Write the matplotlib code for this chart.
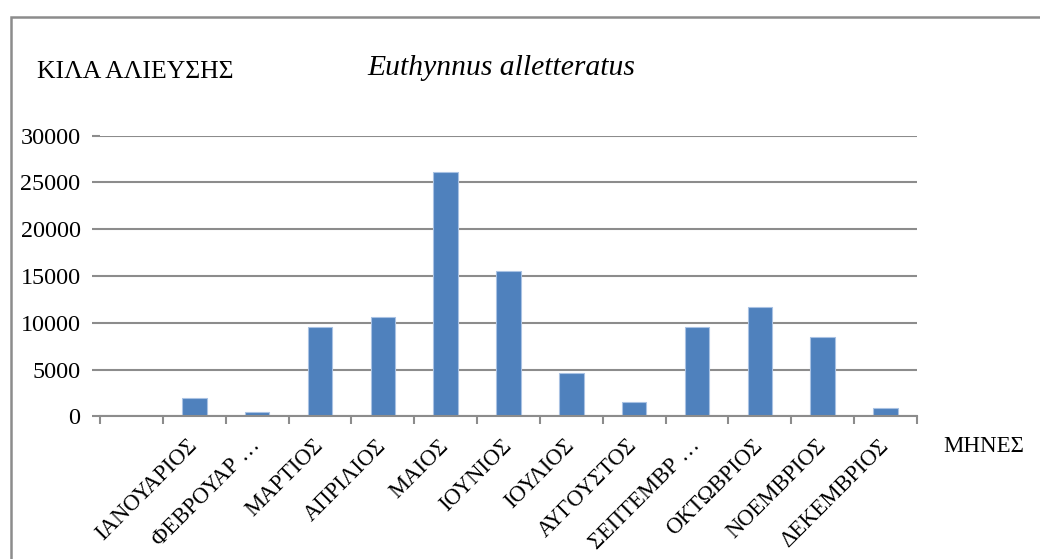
import matplotlib
matplotlib.use("Agg")
import matplotlib.pyplot as plt
from matplotlib.patches import Rectangle
import numpy as np

months = ["", "ΙΑΝΟΥΑΡΙΟΣ", "ΦΕΒΡΟΥΑΡ …", "ΜΑΡΤΙΟΣ", "ΑΠΡΙΛΙΟΣ", "ΜΑΙΟΣ", "ΙΟΥΝΙΟΣ",
          "ΙΟΥΛΙΟΣ", "ΑΥΓΟΥΣΤΟΣ", "ΣΕΠΤΕΜΒΡ …", "ΟΚΤΩΒΡΙΟΣ", "ΝΟΕΜΒΡΙΟΣ", "ΔΕΚΕΜΒΡΙΟΣ"]
catch_kg = [np.nan, 2000, 450, 9550, 10650, 26150, 15500, 4600, 1530, 9520, 11720, 8450, 890]
yticks = [0, 5000, 10000, 15000, 20000, 25000, 30000]

plt.rcParams['font.family'] = ['Liberation Serif', 'DejaVu Serif']
W, H = 1040, 559
fig = plt.figure(figsize=(W/100, H/100), dpi=100)
ax = fig.add_axes([100/W, 1-416.3/H, (917-100)/W, (416.3-135.7)/H])

x = np.arange(len(months))
vals = np.array(catch_kg, dtype=float)
ax.bar(x, np.nan_to_num(vals), width=0.39, color='#4F81BD', edgecolor='#A9C2E3', linewidth=0.8, zorder=3)

ax.set_xlim(-0.5, len(months)-0.5)
ax.set_ylim(0, 30000)
ax.set_yticks(yticks)
ax.set_yticklabels([str(v) for v in yticks], fontsize=17.4)
ax.yaxis.grid(True, color='#8c8c8c', linewidth=1.5, zorder=0)
ax.tick_params(axis='y', length=6, width=1.5, color='#8c8c8c', pad=8)

ax.set_xticks(np.arange(-0.5, len(months), 1.0))
ax.set_xticklabels([])
ax.tick_params(axis='x', which='major', length=6, width=1.5, color='#8c8c8c')
ax.set_xticks(x[1:], minor=True)
ax.set_xticklabels(months[1:], minor=True, rotation=45, ha='right', va='center',
                   rotation_mode='anchor', fontsize=16.3)
ax.tick_params(axis='x', which='minor', length=0, pad=19)

for s in ['left', 'right', 'top']:
    ax.spines[s].set_visible(False)
ax.spines['bottom'].set_color('#8c8c8c')
ax.spines['bottom'].set_linewidth(1.5)
ax.spines['bottom'].set_zorder(4)

fig.text(37/W, 1-72/H, "ΚΙΛΑ ΑΛΙΕΥΣΗΣ", fontsize=18.5, ha='left', va='center')
fig.text(367/W, 1-68/H, "Euthynnus alletteratus", fontsize=21.3, style='italic', ha='left', va='center')
fig.text(943/W, 1-447/H, "ΜΗΝΕΣ", fontsize=16.5, ha='left', va='center')

fig.patches.append(Rectangle((11/W, -0.1), 1.2, 1-17/H+0.1, transform=fig.transFigure,
                             fill=False, edgecolor='#8c8c8c', linewidth=1.8))

fig.savefig("out.png", dpi=100)
